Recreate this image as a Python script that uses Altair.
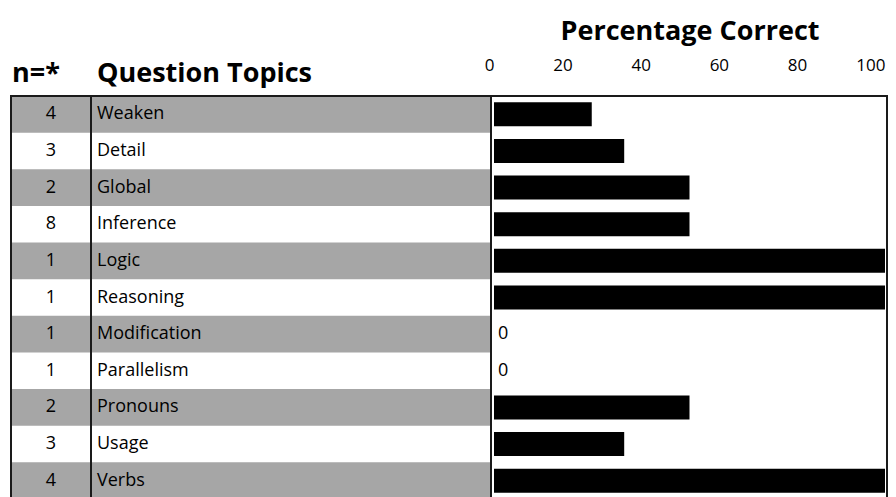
import altair as alt
import pandas as pd

topics = ["Weaken", "Detail", "Global", "Inference", "Logic", "Reasoning",
          "Modification", "Parallelism", "Pronouns", "Usage", "Verbs"]
counts = [4, 3, 2, 8, 1, 1, 1, 1, 2, 3, 4]
pct_correct = [25, 33.3, 50, 50, 100, 100, 0, 0, 50, 33.3, 100]
x_ticks = [0, 20, 40, 60, 80, 100]
header_n = "n=*"
header_topics = "Question Topics"
x_title = "Percentage Correct"

FONT = "Open Sans"

df = pd.DataFrame({"topic": topics, "n": counts, "pct": pct_correct})
df["row"] = range(len(df))
df["shade"] = df["row"] % 2 == 0

W = 878
H = 403
LEFT_W = 481
NUM_X = 41
TOPIC_X = 87

y_enc = alt.Y("topic:N", sort=topics,
              scale=alt.Scale(paddingInner=0, paddingOuter=0),
              axis=None)
x_scale = alt.Scale(domain=[0, 100], range=[484, 875], nice=False)

base = alt.Chart(df)

stripes = base.transform_filter("datum.shade").mark_rect(color="#a6a6a6").encode(
    y=y_enc, x=alt.value(1), x2=alt.value(LEFT_W)
)

bars = base.mark_bar(color="black", size=24).encode(
    y=y_enc,
    x=alt.X("pct:Q", scale=x_scale,
            axis=alt.Axis(orient="top", values=x_ticks, labelAlign="right",
                          labelFontSize=17, labelPadding=26, labelBaseline="alphabetic",
                          labelFont=FONT, labelColor="black",
                          ticks=False, domain=False, grid=False,
                          title=x_title, titleFont=FONT, titleFontSize=27,
                          titleFontWeight="bold", titleColor="black",
                          titleY=-57, titleBaseline="alphabetic")),
)

zeros = base.transform_filter("datum.pct == 0").mark_text(
    align="left", dx=4, fontSize=18, font=FONT, color="black"
).encode(y=y_enc, x=alt.X("pct:Q", scale=x_scale), text=alt.Text("pct:Q"))

n_text = base.mark_text(align="center", fontSize=18, font=FONT, color="black").encode(
    y=y_enc, x=alt.value(NUM_X), text="n:Q"
)
topic_text = base.mark_text(align="left", fontSize=18, font=FONT, color="black").encode(
    y=y_enc, x=alt.value(TOPIC_X), text="topic:N"
)

hdr = pd.DataFrame({"h": [header_n, header_topics]})
hdr_n = alt.Chart(hdr).transform_filter(f"datum.h == '{header_n}'").mark_text(
    align="left", baseline="alphabetic", fontSize=27, fontWeight="bold", font=FONT, color="black"
).encode(x=alt.value(2), y=alt.value(-14), text="h:N")
hdr_t = alt.Chart(hdr).transform_filter(f"datum.h == '{header_topics}'").mark_text(
    align="left", baseline="alphabetic", fontSize=27, fontWeight="bold", font=FONT, color="black"
).encode(x=alt.value(TOPIC_X), y=alt.value(-14), text="h:N")

def vline(xpos):
    return alt.Chart(hdr).transform_filter(f"datum.h == '{header_n}'").mark_rule(
        color="#1a1a1a", strokeWidth=2
    ).encode(x=alt.value(xpos), y=alt.value(0), y2=alt.value(H))

top_line = alt.Chart(hdr).transform_filter(f"datum.h == '{header_n}'").mark_rule(
    color="#1a1a1a", strokeWidth=2
).encode(x=alt.value(0), x2=alt.value(W), y=alt.value(0))

chart = alt.layer(
    stripes, bars, zeros, n_text, topic_text, hdr_n, hdr_t,
    vline(1), vline(81), vline(LEFT_W), vline(W - 1), top_line
).properties(
    width=W, height=H,
    autosize=alt.AutoSizeParams(type="none"),
    padding={"left": 2, "top": 88, "right": 0, "bottom": 0},
).configure_view(stroke=None)

chart.save("out.html", embed_options={"renderer": "svg", "actions": False})
